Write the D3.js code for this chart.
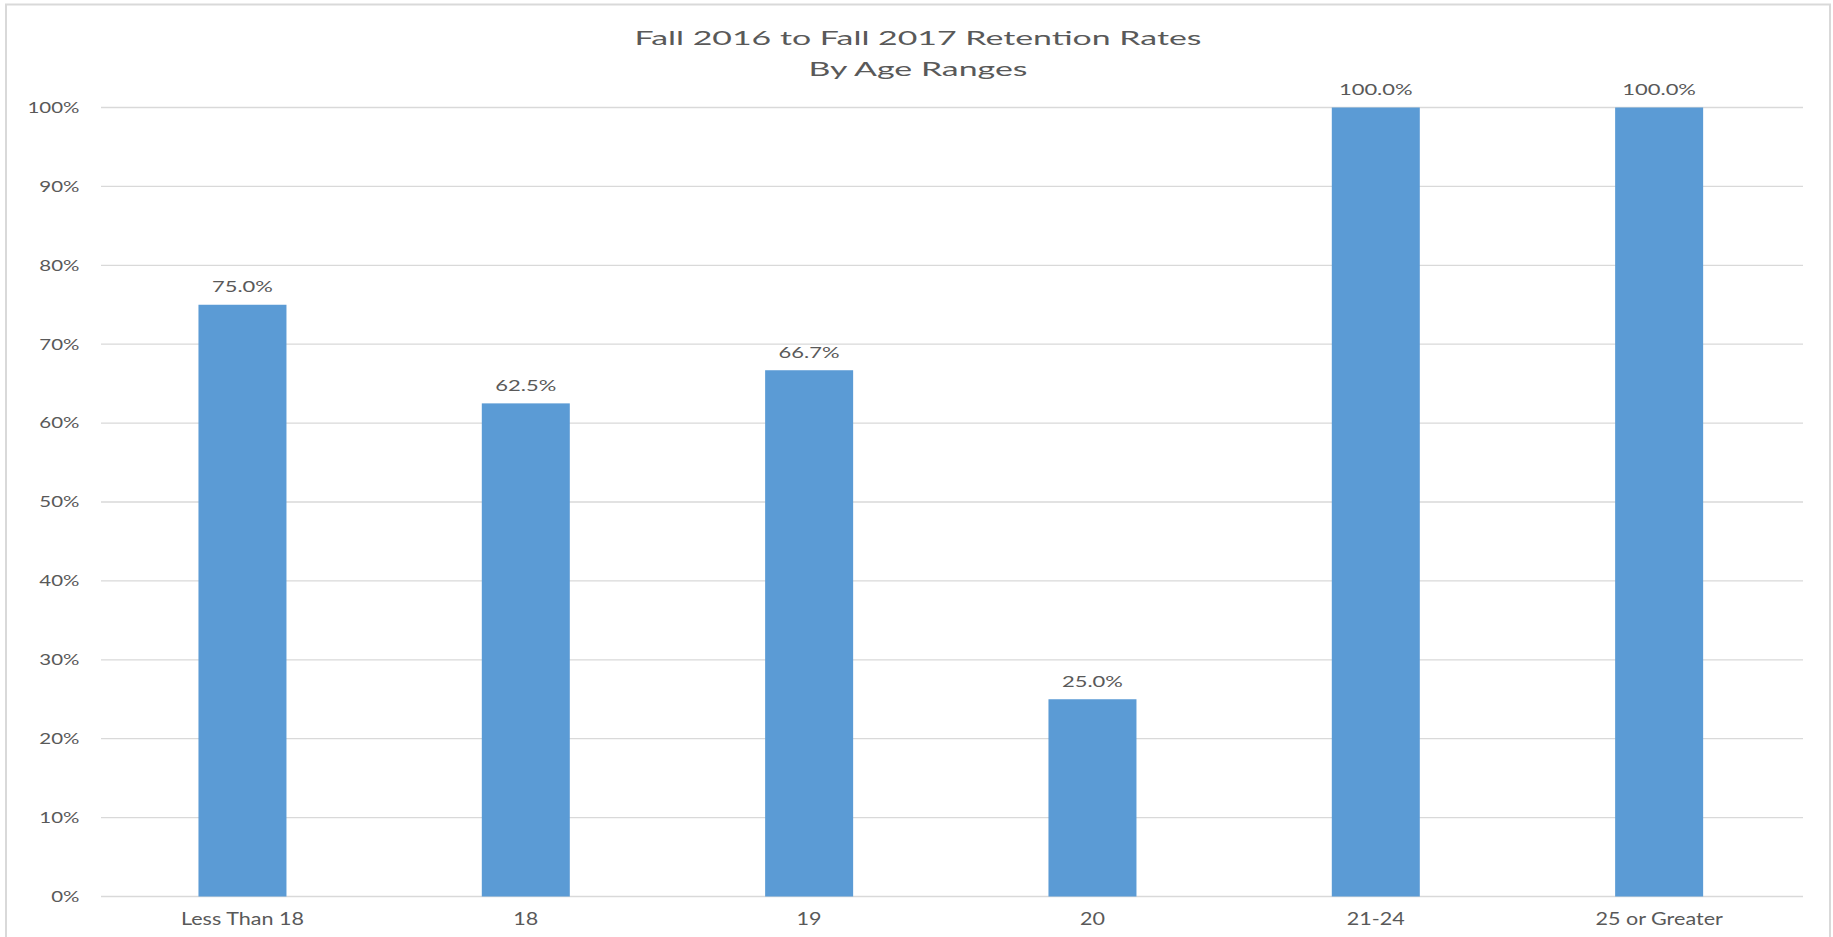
<!DOCTYPE html>
<html>
<head>
<meta charset="utf-8">
<script src="https://cdn.jsdelivr.net/npm/d3@7"></script>
<style>
  body { margin: 0; background: #fff; }
  text { font-family: Lato, 'Open Sans', sans-serif; fill: #595959; }
  .grid line { stroke: #d9d9d9; stroke-width: 1.3px; }
  .bar { fill: #5b9bd5; }
</style>
</head>
<body>
<div id="draw"></div>
<script>
const titleLines = ['Fall 2016 to Fall 2017 Retention Rates', 'By Age Ranges']
const ageRanges = ['Less Than 18', '18', '19', '20', '21-24', '25 or Greater']
const retention = [75.0, 62.5, 66.7, 25.0, 100.0, 100.0]
const yTicks = [0, 10, 20, 30, 40, 50, 60, 70, 80, 90, 100]

let width = 1833
let height = 937
let margin = { top: 107.5, right: 30, bottom: 40.5, left: 101 }

let svg = d3.select('#draw')
  .append('svg')
  .attr('width', width)
  .attr('height', height)

// chart frame
svg.append('rect')
  .attr('x', 6)
  .attr('y', 4.5)
  .attr('width', 1824)
  .attr('height', 960)
  .attr('fill', '#fff')
  .attr('stroke', '#d9d9d9')
  .attr('stroke-width', 2)

let x = d3.scaleBand()
  .domain(ageRanges)
  .range([100.8, 1800.8])
  .paddingInner(0.6894)
  .paddingOuter(0.3447)

let y = d3.scaleLinear()
  .domain([0, 100])
  .range([height - margin.bottom, margin.top])

// stretch text so it takes the width it has in the reference
function fitWidth (sel, sample, target) {
  let probe = svg.append('text').attr('class', sel.attr('class')).style('font-size', sel.style('font-size')).text(sample)
  let k = target / probe.node().getComputedTextLength()
  probe.remove()
  sel.each(function () {
    let w = this.getComputedTextLength()
    d3.select(this).attr('textLength', w * k).attr('lengthAdjust', 'spacingAndGlyphs')
  })
}

// gridlines
svg.append('g')
  .attr('class', 'grid')
  .selectAll('line')
  .data(yTicks)
  .enter().append('line')
  .attr('x1', margin.left)
  .attr('x2', width - margin.right)
  .attr('y1', d => y(d))
  .attr('y2', d => y(d))

// y axis labels
let yLabels = svg.append('g')
  .selectAll('text')
  .data(yTicks)
  .enter().append('text')
  .attr('class', 'ylabel')
  .attr('x', 79.5)
  .attr('y', d => y(d) + 5.3)
  .style('text-anchor', 'end')
  .style('font-size', '15px')
  .text(d => d + '%')
fitWidth(yLabels, '100%', 52)

// bars
svg.selectAll('.bar')
  .data(retention)
  .enter().append('rect')
  .attr('class', 'bar')
  .attr('x', (d, i) => x(ageRanges[i]))
  .attr('y', d => y(d))
  .attr('width', x.bandwidth())
  .attr('height', d => y(0) - y(d))

// data labels
let valueLabels = svg.selectAll('.value')
  .data(retention)
  .enter().append('text')
  .attr('class', 'value')
  .attr('x', (d, i) => x(ageRanges[i]) + x.bandwidth() / 2)
  .attr('y', d => y(d) - 12.5)
  .style('text-anchor', 'middle')
  .style('font-size', '15px')
  .text(d => d.toFixed(1) + '%')
fitWidth(valueLabels, '75.0%', 61)

// x axis labels
let xLabels = svg.selectAll('.xlabel')
  .data(ageRanges)
  .enter().append('text')
  .attr('class', 'xlabel')
  .attr('x', d => x(d) + x.bandwidth() / 2)
  .attr('y', y(0) + 28)
  .style('text-anchor', 'middle')
  .style('font-size', '16.5px')
  .text(d => d)
fitWidth(xLabels, 'Less Than 18', 123)

// title
let title = svg.selectAll('.title')
  .data(titleLines)
  .enter().append('text')
  .attr('class', 'title')
  .attr('x', 918)
  .attr('y', (d, i) => 44.5 + i * 31)
  .style('text-anchor', 'middle')
  .style('font-size', '20px')
  .text(d => d)
fitWidth(title, titleLines[0], 567)
</script>
</body>
</html>
